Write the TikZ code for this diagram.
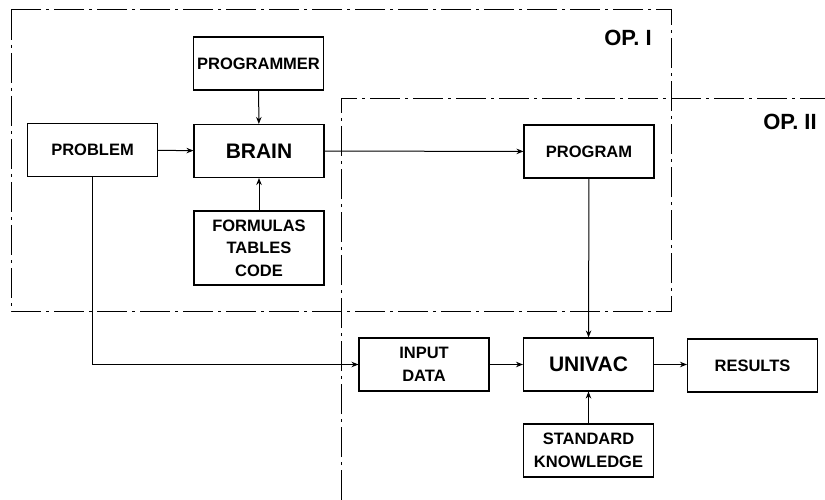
\documentclass[tikz,border=0pt]{standalone}
\usepackage{fontspec}
\setmainfont{Liberation Sans}
\usetikzlibrary{arrows.meta}
\begin{document}
\begin{tikzpicture}[x=1pt,y=-1pt,
  box/.style={draw, line width=1.1pt, minimum width=130pt, minimum height=53pt,
    inner sep=0pt, align=center, font=\fontsize{16.5}{22.5}\selectfont\bfseries},
  big/.style={font=\fontsize{21}{25}\selectfont\bfseries},
  arr/.style={line width=1pt, -{Stealth[length=7pt,width=5.5pt]}},
  dd/.style={line width=1pt, dash pattern=on 30pt off 5pt on 3pt off 5pt},
  lbl/.style={font=\fontsize{22}{26}\selectfont\bfseries, inner sep=0pt}]
\useasboundingbox (0,0) rectangle (825,500);
% operation regions
\draw[dd] (11,10) rectangle (671,311);
\draw[dd] (341,500) -- (341,99) -- (825,99);
\node[lbl] (op1) at (628,38) {OP.\ I};
\node[lbl] (op2) at (790,122) {OP.\ II};
% boxes
\node[box] (programmer) at (258.5,63.5) {PROGRAMMER};
\node[box] (problem) at (92.5,150) {PROBLEM};
\node[box, big] (brain) at (259,151) {BRAIN};
\node[box, minimum height=74pt] (formulas) at (259,248) {FORMULAS\\TABLES\\CODE};
\node[box] (program) at (589,151.5) {PROGRAM};
\node[box] (input) at (424,364.5) {INPUT\\DATA};
\node[box, big] (univac) at (588.5,364.5) {UNIVAC};
\node[box] (results) at (752.5,365.5) {RESULTS};
\node[box] (standard) at (588.5,450.5) {STANDARD\\KNOWLEDGE};
% connectors
\draw[arr] (programmer) -- (brain);
\draw[arr] (problem) -- (brain);
\draw[arr] (formulas) -- (brain);
\draw[arr] (brain) -- (program);
\draw[arr] (program) -- (univac);
\draw[arr] (problem.south) |- (input.west);
\draw[arr] (input) -- (univac);
\draw[arr] (univac.east) -- (results.west |- univac.east);
\draw[arr] (standard) -- (univac);
\end{tikzpicture}
\end{document}
